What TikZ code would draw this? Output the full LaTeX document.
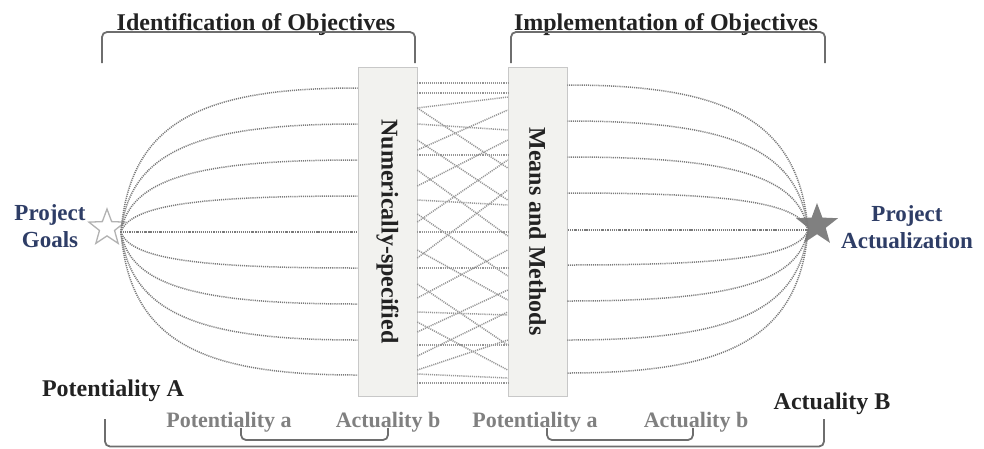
\documentclass[tikz,border=0pt]{standalone}
\usepackage{fontspec}
\setmainfont{Liberation Serif}
\usetikzlibrary{shapes.geometric,calc}
\definecolor{navy}{HTML}{2E3D66}
\definecolor{ink}{HTML}{222222}
\definecolor{mute}{HTML}{808080}
\definecolor{boxfill}{HTML}{F2F2EF}
\definecolor{boxline}{HTML}{C8C8C8}
\definecolor{dots}{HTML}{7A7A7A}
\definecolor{brk}{HTML}{6E6E6E}
\begin{document}
\begin{tikzpicture}[
                x=1pt, y=-1pt,
                every node/.style={inner sep=0pt},
                title/.style={font=\fontsize{24}{26}\selectfont\bfseries, text=ink, anchor=base},
                goal/.style={font=\fontsize{23}{27}\selectfont\bfseries, text=navy, align=center},
                small/.style={font=\fontsize{22}{24}\selectfont\bfseries, text=mute, anchor=base},
                column/.style={draw=boxline, fill=boxfill, line width=0.6pt,
                    minimum width=59pt, minimum height=329pt,
                    font=\fontsize{24}{26}\selectfont\bfseries, text=ink},
                fan/.style={draw=dots, line width=1.5pt, dash pattern=on 1.1pt off 1pt},
                brace/.style={draw=brk, line width=1.8pt, rounded corners=5pt},
            ]
            \useasboundingbox (0,0) rectangle (984,448);
            % titles
            \node[title] (idobj) at (256,30) {Identification of Objectives};
            \node[title] (imobj) at (666,30) {Implementation of Objectives};
            \draw[brace] (102,63) -- (102,32) -- (415,32) -- (415,63);
            \draw[brace] (511,63) -- (511,32) -- (825,32) -- (825,63);
            % the two columns
            \node[column] (numspec) at (387.5,231.5) {\rotatebox{-90}{Numerically-specified}};
            \node[column] (means) at (537.5,231.5) {\rotatebox{-90}{Means and Methods}};
            % goals and actualization
            \node[goal] (goals) at (50,226) {Project\\Goals};
            \node[goal] (actual) at (907,227) {Project\\Actualization};
            \node[star, star points=5, star point ratio=2.4, minimum size=38pt,
                draw=gray!60, fill=white, line width=1.3pt] (gstar) at (107,228) {};
            \node[star, star points=5, star point ratio=2.4, minimum size=44pt,
                fill=mute] (astar) at (817,225) {};
            \coordinate (gc) at (121,232);
            \coordinate (ac) at (808,230);
            % fans
            \foreach \y in {88,124,160,196,232,268,304,340,375}{
                \pgfmathsetmacro{\cy}{232+(\y-232)*0.78}
                \draw[fan] (gc) .. controls (130,\cy) and (205,\y) .. (numspec.west |- 0,\y);
            }
            \foreach \y in {85,121,157,193,230,265,301,340,373}{
                \pgfmathsetmacro{\cy}{230+(\y-230)*0.78}
                \draw[fan] (ac) .. controls (799,\cy) and (722,\y) .. (means.east |- 0,\y);
            }
            % ties between the columns
            \foreach \a/\b in {83/83, 93/93, 108/97, 108/168, 124/130, 140/200, 150/110,
                155/155, 170/236, 186/140, 200/205, 214/276, 222/160, 232/232, 250/300,
                258/190, 268/268, 284/345, 298/250, 312/315, 322/370, 332/290, 345/345,
                356/312, 370/340, 374/378, 383/383}{
                \draw[fan, draw=dots!80] (numspec.east |- 0,\a) -- (means.west |- 0,\b);
            }
            % bottom labels
            \node[title] (potA) at (113,396) {Potentiality A};
            \node[title] (actB) at (832,409) {Actuality B};
            \node[small] (pota1) at (229,427) {Potentiality a};
            \node[small] (actb1) at (388,427) {Actuality b};
            \node[small] (pota2) at (535,427) {Potentiality a};
            \node[small] (actb2) at (696,427) {Actuality b};
            \draw[brace] (105,419) -- (105,446.5) -- (824,446.5) -- (824,419);
            \draw[brace] (241,428) -- (241,440) -- (388,440) -- (388,428);
            \draw[brace] (547,428) -- (547,440) -- (693,440) -- (693,428);
            \end{tikzpicture}
\end{document}
